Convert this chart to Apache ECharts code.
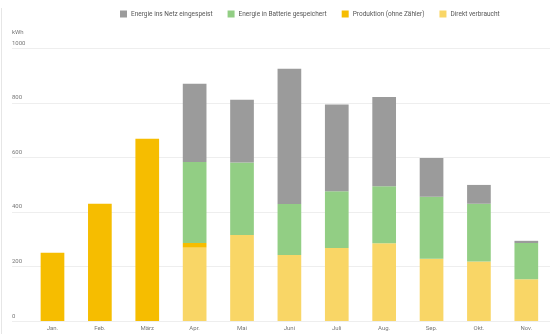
<!DOCTYPE html>
<html>
<head>
<meta charset="utf-8">
<script src="https://cdn.jsdelivr.net/npm/echarts@6/dist/echarts.min.js"></script>
<style>
html,body{margin:0;padding:0;background:#fff;}
#c{width:550px;height:334px;position:relative;}
#edge{position:absolute;left:1px;top:8px;width:1px;height:326px;background:#e6e6e6;}
</style>
</head>
<body>
<div id="c"></div>
<div id="edge"></div>
<script>
const categories = ['Jan.', 'Feb.', 'März', 'Apr.', 'Mai', 'Juni', 'Juli', 'Aug.', 'Sep.', 'Okt.', 'Nov.'];
const direktVerbraucht = [null, null, null, 269, 315, 242, 268, 285, 228, 218, 153];
const produktion = [250, 430, 668, 17, null, null, null, null, null, null, null];
const batterie = [null, null, null, 297, 266, 187, 208, 209, 228, 212, 133];
const netz = [null, null, null, 287, 230, 496, 318, 327, 142, 69, 8];
const yTicks = [0, 200, 400, 600, 800, 1000];

const names = {
  netz: 'Energie ins Netz eingespeist',
  batt: 'Energie in Batterie gespeichert',
  prod: 'Produktion (ohne Zähler)',
  direkt: 'Direkt verbraucht'
};
const colors = {netz: '#9b9b9b', batt: '#92ce84', prod: '#f6bd00', direkt: '#f9d666'};
const font = 'Roboto, sans-serif';

const chart = echarts.init(document.getElementById('c'));
chart.setOption({
  animation: false,
  textStyle: {fontFamily: font},
  legend: {
    data: [names.netz, names.batt, names.prod, names.direkt],
    left: 120, top: 10.5, padding: 0,
    icon: 'rect', itemWidth: 7, itemHeight: 7, itemGap: 15,
    textStyle: {fontSize: 6.5, color: '#555', fontFamily: font, padding: [0, 0, 0, -1]}
  },
  grid: [
    {left: 28.8, right: -4.6, top: 48.3, bottom: 13},
    {left: 12, right: 0, top: 48.3, bottom: 13}
  ],
  xAxis: [
    {
      type: 'category', data: categories, gridIndex: 0,
      axisLine: {show: false}, axisTick: {show: false},
      axisLabel: {fontSize: 6, color: '#777', margin: 4, fontFamily: font}
    },
    {type: 'value', gridIndex: 1, show: false}
  ],
  yAxis: [
    {type: 'value', gridIndex: 0, min: 0, max: yTicks[yTicks.length - 1], interval: 200, show: false},
    {
      type: 'value', gridIndex: 1, min: yTicks[0], max: yTicks[yTicks.length - 1], interval: 200,
      name: 'kWh', nameLocation: 'end', nameGap: 13,
      nameTextStyle: {fontSize: 6, color: '#777', align: 'left', fontFamily: font},
      axisLine: {show: false}, axisTick: {show: false},
      axisLabel: {inside: true, margin: 0, fontSize: 6, color: '#777', verticalAlign: 'bottom', padding: [0, 0, 2, 0], fontFamily: font,
        formatter: v => String(v)},
      splitLine: {lineStyle: {color: '#eeeeee', width: 1}}
    }
  ],
  series: [
    {name: names.direkt, type: 'bar', stack: 't', data: direktVerbraucht, barWidth: '50%', itemStyle: {color: colors.direkt}},
    {name: names.prod, type: 'bar', stack: 't', data: produktion, itemStyle: {color: colors.prod}},
    {name: names.batt, type: 'bar', stack: 't', data: batterie, itemStyle: {color: colors.batt}},
    {name: names.netz, type: 'bar', stack: 't', data: netz, itemStyle: {color: colors.netz}}
  ]
});
</script>
</body>
</html>
